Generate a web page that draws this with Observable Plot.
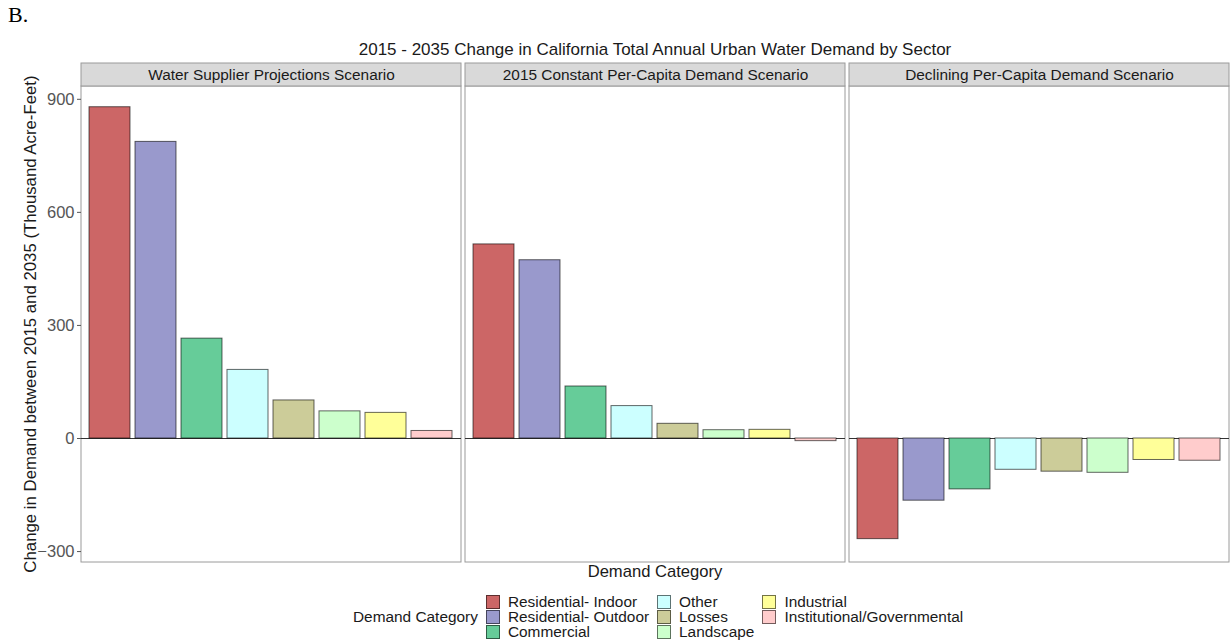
<!DOCTYPE html>
<html>
<head>
<meta charset="utf-8">
<script src="https://cdn.jsdelivr.net/npm/d3@7"></script>
<script src="https://cdn.jsdelivr.net/npm/@observablehq/plot@0.6"></script>
<style>
  html, body { margin: 0; padding: 0; background: #fff; }
  #page { position: relative; width: 1232px; height: 640px; font-family: "Liberation Sans", Arial, Helvetica, sans-serif; color: #1a1a1a; }
  #tag { position: absolute; left: 8px; top: 2px; font-family: "Liberation Serif", "Times New Roman", serif; font-size: 22px; color: #000; }
  #title { position: absolute; left: 80px; width: 1150px; top: 40px; text-align: center; font-size: 17px; }
  #chart { position: absolute; left: 0; top: 60px; }
  #ytitle { position: absolute; left: 31px; top: 324px; transform: translate(-50%, -50%) rotate(-90deg); white-space: nowrap; font-size: 16.8px; }
  #xtitle { position: absolute; left: 80px; width: 1150px; top: 562px; text-align: center; font-size: 16.6px; }
  #legend { position: absolute; left: 353px; top: 594px; display: flex; align-items: center; font-size: 15.4px; }
  #legend .ltitle { margin-right: 8px; }
  #legend .grid { display: grid; grid-template-rows: repeat(3, 15px); grid-auto-flow: column; column-gap: 8px; }
  #legend .item { display: flex; align-items: center; height: 15px; }
  #legend .key { width: 14px; height: 14px; border: 1px solid rgba(0,0,0,0.55); margin-right: 8px; box-sizing: border-box; }
</style>
</head>
<body>
<div id="page">
  <div id="tag">B.</div>
  <div id="title">2015 - 2035 Change in California Total Annual Urban Water Demand by Sector</div>
  <div id="chart"></div>
  <div id="ytitle">Change in Demand between 2015 and 2035 (Thousand Acre-Feet)</div>
  <div id="xtitle">Demand Category</div>
  <div id="legend"></div>
</div>
<script>
// Demand sectors, in plotting order
const categories = [
  "Residential- Indoor",
  "Residential- Outdoor",
  "Commercial",
  "Other",
  "Losses",
  "Landscape",
  "Industrial",
  "Institutional/Governmental"
];

const categoryColors = ["#CC6666", "#9999CC", "#66CC99", "#CCFFFF", "#CCCC99", "#CCFFCC", "#FFFF99", "#FFCCCC"];

const scenarios = [
  "Water Supplier Projections Scenario",
  "2015 Constant Per-Capita Demand Scenario",
  "Declining Per-Capita Demand Scenario"
];

// Change in demand 2015 -> 2035, thousand acre-feet, one value per sector
const supplierProjections = [879, 787, 265, 182, 101, 72, 68, 20];
const constantPerCapita = [515, 473, 138, 86, 39, 22, 23, -7];
const decliningPerCapita = [-267, -165, -135, -83, -88, -91, -57, -59];

const yTicks = [-300, 0, 300, 600, 900];

// Long table for faceting
const seriesByScenario = [supplierProjections, constantPerCapita, decliningPerCapita];
const table = scenarios.flatMap((s, i) =>
  categories.map((c, j) => ({scenario: s, category: c, value: seriesByScenario[i][j]}))
);

// Vertical extent: the panel runs from Y_MIN to PANEL_TOP, the facet strip sits above it
const Y_MIN = -329;
const PANEL_TOP = 934;
const STRIP_TOP = 995;

const chart = Plot.plot({
  width: 1232,
  height: 506,
  marginLeft: 80,
  marginRight: 2,
  marginTop: 3,
  marginBottom: 4,
  style: {fontFamily: '"Liberation Sans", Arial, Helvetica, sans-serif', fontSize: "15px", color: "#1a1a1a", background: "white"},
  fx: {domain: scenarios, paddingInner: 0.0105, paddingOuter: 0, axis: null},
  x: {domain: categories, paddingInner: 0.1, paddingOuter: 0.13, axis: null},
  y: {domain: [Y_MIN, STRIP_TOP]},
  color: {domain: categories, range: categoryColors},
  marks: [
    // panel border
    Plot.rect(scenarios, {fx: d => d, y1: Y_MIN, y2: PANEL_TOP, fill: "white", stroke: "#9a9a9a", strokeWidth: 1}),
    // facet strip
    Plot.rect(scenarios, {fx: d => d, y1: PANEL_TOP, y2: STRIP_TOP, fill: "#d9d9d9", stroke: "#9a9a9a", strokeWidth: 1}),
    Plot.text(scenarios, {fx: d => d, y: (PANEL_TOP + STRIP_TOP) / 2, text: d => d, fontSize: 15.4, fill: "#1a1a1a"}),
    Plot.ruleY([0], {stroke: "#333", strokeWidth: 1}),
    Plot.barY(table, {fx: "scenario", x: "category", y: "value", fill: "category", stroke: "#000", strokeOpacity: 0.6, strokeWidth: 1}),
    Plot.axisY({ticks: yTicks, tickSize: 4, tickPadding: 3, fontSize: 16.5, label: null, fill: "#555", stroke: "#555"})
  ]
});
document.getElementById("chart").appendChild(chart);

// Legend: title followed by a 3-row, column-major grid of keys
const legend = document.getElementById("legend");
const lt = document.createElement("div");
lt.className = "ltitle";
lt.textContent = "Demand Category";
legend.appendChild(lt);
const grid = document.createElement("div");
grid.className = "grid";
categories.forEach((c, i) => {
  const item = document.createElement("div");
  item.className = "item";
  const key = document.createElement("div");
  key.className = "key";
  key.style.background = categoryColors[i];
  const label = document.createElement("span");
  label.textContent = c;
  item.appendChild(key);
  item.appendChild(label);
  grid.appendChild(item);
});
legend.appendChild(grid);
</script>
</body>
</html>
